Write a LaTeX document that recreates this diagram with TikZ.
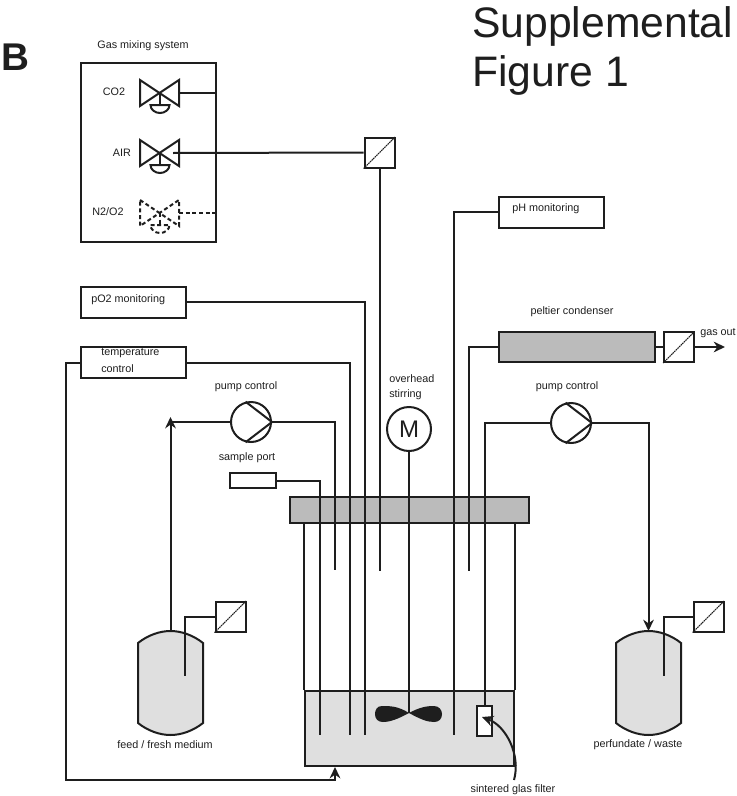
\documentclass[tikz,border=0pt]{standalone}
\usepackage{fontspec}
\setmainfont{Liberation Sans}
\usetikzlibrary{arrows.meta}
\def\pxsz{0.75pt}
\definecolor{rigInk}{HTML}{1E1E1E}
\definecolor{rigGray}{HTML}{BBBBBB}
\definecolor{rigLiquid}{HTML}{DFDFDF}
\tikzset{
  rigline/.style={draw=rigInk, line width=1.5pt, line join=miter},
  rigarrow/.style={rigline, -{Stealth[length=8.5pt,width=8pt]}},
  riglabel/.style={font=\fontsize{8.1}{10}\selectfont, text=rigInk, inner sep=0pt},
  infobox/.style={rigline, fill=white, inner sep=0pt, minimum height=31*\pxsz, minimum width=105*\pxsz},
  sensorbox/.style={rigline, fill=white, inner sep=0pt, minimum size=30*\pxsz},
  sensordiag/.style={draw=rigInk, line width=0.8pt, dash pattern=on 1.2pt off 0.5pt},
  pumpnode/.style={rigline, circle, fill=white, inner sep=0pt, minimum size=40*\pxsz},
  grayblock/.style={rigline, fill=rigGray, inner sep=0pt},
  tankbody/.style={rigline, fill=rigLiquid},
  titletext/.style={font=\fontsize{32}{38}\selectfont, text=rigInk, inner sep=0pt, anchor=base west}
}
\begin{document}
\begin{tikzpicture}
% Gas valve: centre y, line options
\providecommand{\rigValve}[2]{
  \begin{scope}[rigline, #2, shift={(159.5,#1)}]
    \draw (-19.5,-13) -- (19.5,13) -- (19.5,-13) -- (-19.5,13) -- cycle;
    \draw (0,0) -- (0,12);
    \draw (-9,12) -- (10,12) .. controls (10,17) and (5,20) .. (0.5,20) .. controls (-4,20) and (-9,17) .. (-9,12) -- cycle;
  \end{scope}
}
\begin{scope}[x=\pxsz, y=-\pxsz]
  \useasboundingbox (0,0) rectangle (736,796);
  % Titles
  \node (panelB) [font=\fontsize{29}{34}\selectfont\bfseries, text=rigInk, inner sep=0pt] at (15,57) {B};
  \node (titleA) [titletext] at (472,37) {Supplemental};
  \node (titleB) [titletext] at (472,86) {Figure 1};
  % Gas mixing system
  \node (gasTitle) [riglabel] at (143,46) {Gas mixing system};
  \node (gasBox) [rigline, inner sep=0pt, minimum width=135*\pxsz, minimum height=179*\pxsz] at (148.5,152.5) {};
  \node (co2Label) [riglabel] at (114,92) {CO2};
  \node (airLabel) [riglabel] at (122,153) {AIR};
  \node (mixLabel) [riglabel] at (108,212) {N2/O2};
  \rigValve{93}{}
  \rigValve{153}{}
  \rigValve{213}{densely dashed}
  \coordinate (co2Out) at (179,93);
  \coordinate (airOut) at (173,153);
  \coordinate (mixOut) at (179,213);
  \draw[rigline] (co2Out) -- (co2Out-|gasBox.east);
  \draw[rigline, densely dashed] (mixOut) -- (mixOut-|gasBox.east);
  \node (airSensor) [sensorbox] at (379.5,152.5) {};
  \draw[sensordiag] (airSensor.south west) -- (airSensor.north east);
  \draw[rigline] (airOut) -- (airSensor.west);
  % Vessel
  \node (liquid) [rigline, fill=rigLiquid, inner sep=0pt, minimum width=209*\pxsz, minimum height=75*\pxsz] at (409.5,728.5) {};
  \node (vesselLid) [grayblock, minimum width=239*\pxsz, minimum height=26*\pxsz] at (409.5,510) {};
  \draw[rigline] (liquid.north west) -- (liquid.north west|-vesselLid.south);
  \draw[rigline] (liquid.north east) -- (liquid.north east|-vesselLid.south);
  % Monitoring boxes
  \node (pOBox) [infobox] at (133.5,302) {};
  \node (pOLabel) [riglabel, anchor=west] at (91,300) {pO2 monitoring};
  \node (tempBox) [infobox] at (133.5,362.5) {};
  \node (tempLabelA) [riglabel, anchor=west] at (101,353) {temperature};
  \node (tempLabelB) [riglabel, anchor=west] at (101,369) {control};
  \node (pHBox) [infobox] at (551.5,212) {};
  \node (pHLabel) [riglabel, anchor=west] at (512,209) {pH monitoring};
  \node (sampleBox) [rigline, fill=white, inner sep=0pt, minimum width=46*\pxsz, minimum height=15*\pxsz] at (253,480.5) {};
  \node (sampleLabel) [riglabel] at (247,458) {sample port};
  % Condenser
  \node (condenser) [grayblock, minimum width=156*\pxsz, minimum height=30*\pxsz] at (577,347) {};
  \node (condLabel) [riglabel] at (572,312) {peltier condenser};
  \node (gasSensor) [sensorbox] at (679,347) {};
  \draw[sensordiag] (gasSensor.south west) -- (gasSensor.north east);
  \node (gasOutLabel) [riglabel, anchor=west] at (700,333) {gas out};
  \coordinate (gasOut) at (725,347);
  \draw[rigline] (condenser.east) -- (gasSensor.west);
  \draw[rigarrow] (gasSensor.east) -- (gasOut);
  % Pumps and motor
  \node (pumpLeft) [pumpnode] at (251,422) {};
  \node (pumpRight) [pumpnode] at (571,423) {};
  \draw[rigline] (pumpLeft.105) -- (pumpLeft.east) -- (pumpLeft.-105);
  \draw[rigline] (pumpRight.105) -- (pumpRight.east) -- (pumpRight.-105);
  \node (pumpLeftLabel) [riglabel] at (246,387) {pump control};
  \node (pumpRightLabel) [riglabel] at (567,387) {pump control};
  \node (motor) [rigline, circle, fill=white, inner sep=0pt, minimum size=44*\pxsz, font=\fontsize{18}{20}\selectfont, text=rigInk] at (409,429) {M};
  \node (stirLabelA) [riglabel, anchor=west] at (389,379) {overhead};
  \node (stirLabelB) [riglabel, anchor=west] at (389,395) {stirring};
  % Sintered filter
  \node (filter) [rigline, fill=white, inner sep=0pt, minimum width=15*\pxsz, minimum height=30*\pxsz] at (484.5,721) {};
  \node (filterLabel) [riglabel] at (513,790) {sintered glas filter};
  \coordinate (filterTail) at (514,780);
  \coordinate (filterTip) at (482,717);
  \draw[rigarrow] (filterTail) .. controls (521,755) and (506,726) .. (filterTip);
  % Feed tank
  \draw[tankbody] (138,643) .. controls (148,635) and (160,631) .. (170.5,631) .. controls (181,631) and (193,635) .. (203,643) -- (203,723) .. controls (193,731) and (181,735) .. (170.5,735) .. controls (160,735) and (148,731) .. (138,723) -- cycle;
  \node (feedLabel) [riglabel] at (165,745) {feed / fresh medium};
  \node (feedSensor) [sensorbox] at (230.5,616.5) {};
  \draw[sensordiag] (feedSensor.south west) -- (feedSensor.north east);
  % Waste tank
  \draw[tankbody] (616,643) .. controls (626,635) and (638,631) .. (648.5,631) .. controls (659,631) and (671,635) .. (681,643) -- (681,723) .. controls (671,731) and (659,735) .. (648.5,735) .. controls (638,735) and (626,731) .. (616,723) -- cycle;
  \node (wasteLabel) [riglabel] at (638,745) {perfundate / waste};
  \node (wasteSensor) [sensorbox] at (708.5,616.5) {};
  \draw[sensordiag] (wasteSensor.south west) -- (wasteSensor.north east);
  % Line ends
  \coordinate (sampleEnd) at (320,735);
  \coordinate (pumpLeftEnd) at (335,570);
  \coordinate (tempEnd) at (350,735);
  \coordinate (pOEnd) at (364.5,735);
  \coordinate (airEnd) at (379.5,571);
  \coordinate (stirEnd) at (409,713);
  \coordinate (pHEnd) at (454,735);
  \coordinate (condEnd) at (469,571);
  \coordinate (feedTop) at (170.5,631);
  \coordinate (feedTurn) at (170.5,417);
  \coordinate (feedProbe) at (185,676);
  \coordinate (wasteTop) at (648.5,631);
  \coordinate (wasteProbe) at (664,676);
  \coordinate (tempTurn) at (66,780);
  \coordinate (tempIn) at (335,767);
  % Connectors
  \draw[rigline] (sampleBox.east) -| (sampleEnd);
  \draw[rigline] (pumpLeft.east) -| (pumpLeftEnd);
  \draw[rigline] (tempBox.east) -| (tempEnd);
  \draw[rigline] (pOBox.east) -| (pOEnd);
  \draw[rigline] (airSensor.south) -- (airEnd);
  \draw[rigline] (motor.south) -- (stirEnd);
  \draw[rigline] (pHBox.west) -| (pHEnd);
  \draw[rigline] (condenser.west) -| (condEnd);
  \draw[rigline] (pumpRight.west) -| (filter.north);
  \draw[rigarrow] (pumpRight.east) -| (wasteTop);
  \draw[rigarrow] (feedTop) -- (feedTurn);
  \draw[rigline] (pumpLeft.west) -- (pumpLeft.west-|feedTurn);
  \draw[rigline] (feedSensor.west) -| (feedProbe);
  \draw[rigline] (wasteSensor.west) -| (wasteProbe);
  \draw[rigarrow] (tempBox.west) -| (tempTurn) -| (tempIn);
  % Impeller
  \fill[rigInk] (stirEnd) .. controls (398,706) and (390,706) .. (382,706) .. controls (377,706) and (375,710) .. (375,714) .. controls (375,719) and (378,722) .. (383,722) .. controls (390,722) and (398,719) .. (stirEnd) .. controls (420,707) and (427,706) .. (434,706) .. controls (439,706) and (442,710) .. (442,714) .. controls (442,719) and (439,722) .. (434,722) .. controls (427,722) and (420,719) .. (stirEnd) -- cycle;
\end{scope}
\end{tikzpicture}
\end{document}
